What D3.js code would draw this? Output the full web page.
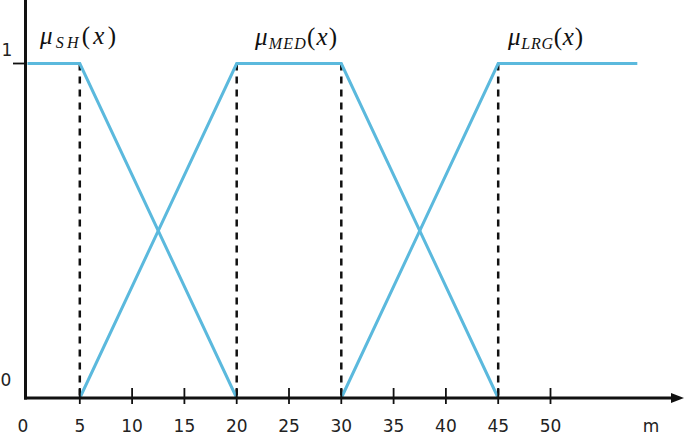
<!DOCTYPE html>
<html><head><meta charset="utf-8">
<script src="https://cdn.jsdelivr.net/npm/d3@7"></script>
<style>html,body{margin:0;padding:0;background:#fff;}svg{display:block;}</style>
</head><body>
<svg id="c" width="685" height="442"></svg>
<script>
// data
const xTickValues = [0, 5, 10, 15, 20, 25, 30, 35, 40, 45, 50];
const xUnit = "m";
const yTickLabels = ["0", "1"];
const shX = [0, 5, 20],      shY = [1, 1, 0];
const medX = [5, 20, 30, 45], medY = [0, 1, 1, 0];
const lrgX = [30, 45, 58.3],  lrgY = [0, 1, 1];
const cornerX = [5, 20, 30, 45];
const seriesNames = ["SH", "MED", "LRG"];

const svg = d3.select("#c");
const x = d3.scaleLinear().domain([0, 50]).range([27.5, 550.5]);
const y = d3.scaleLinear().domain([0, 1]).range([398, 63.5]);
const blue = "#5bb9dd";

// dashed verticals
svg.selectAll("line.dash").data(cornerX).enter().append("line")
  .attr("x1", d => x(d)).attr("x2", d => x(d))
  .attr("y1", y(1)).attr("y2", y(0))
  .attr("stroke", "#111").attr("stroke-width", 2.5)
  .attr("stroke-dasharray", "7,6");

// membership lines
const line = d3.line().x(d => x(d[0])).y(d => y(d[1]));
[[shX, shY], [medX, medY], [lrgX, lrgY]].forEach(([xs, ys]) => {
  svg.append("path").attr("d", line(xs.map((v, i) => [v, ys[i]])))
    .attr("fill", "none").attr("stroke", blue).attr("stroke-width", 3)
    .attr("stroke-linejoin", "miter");
});

// axes
const axisX0 = 25.5;
svg.append("line").attr("x1", axisX0).attr("x2", axisX0).attr("y1", 0).attr("y2", 399.5)
  .attr("stroke", "#111").attr("stroke-width", 3);
svg.append("line").attr("x1", axisX0 - 1.5).attr("x2", 676).attr("y1", y(0)).attr("y2", y(0))
  .attr("stroke", "#111").attr("stroke-width", 3);
svg.append("path").attr("d", `M671,${y(0)-5} L684,${y(0)} L671,${y(0)+5} Z`).attr("fill", "#111");

// x ticks
svg.selectAll("line.xt").data(xTickValues.filter(d => d > 0)).enter().append("line")
  .attr("x1", d => x(d)).attr("x2", d => x(d)).attr("y1", 388).attr("y2", 404)
  .attr("stroke", "#111").attr("stroke-width", 1.8);
svg.selectAll("text.xl").data(xTickValues).enter().append("text")
  .attr("x", d => d === 0 ? 23 : x(d)).attr("y", 432)
  .attr("text-anchor", "middle").attr("font-family", "DejaVu Sans")
  .attr("font-size", 17).attr("fill", "#222").text(d => d);
svg.append("text").attr("x", 651).attr("y", 432).attr("text-anchor", "middle")
  .attr("font-family", "DejaVu Sans").attr("font-size", 17).attr("fill", "#222").text(xUnit);

// y tick at 1
svg.append("line").attr("x1", 13).attr("x2", axisX0).attr("y1", y(1)).attr("y2", y(1))
  .attr("stroke", "#111").attr("stroke-width", 1.8);
svg.append("text").attr("x", 6).attr("y", 386).attr("text-anchor", "middle")
  .attr("font-family", "DejaVu Sans").attr("font-size", 17).attr("fill", "#222").text(yTickLabels[0]);
svg.append("text").attr("x", 7).attr("y", 56).attr("text-anchor", "middle")
  .attr("font-family", "DejaVu Sans").attr("font-size", 17).attr("fill", "#222").text(yTickLabels[1]);

// math labels
const labelLeft = [40, 255, 508];
const labelBase = [44, 45, 45];
const labelWidth = [76, 82, 75];
seriesNames.forEach((n, i) => {
  const t = svg.append("text").attr("x", labelLeft[i]).attr("y", labelBase[i])
    .attr("font-family", "Liberation Serif").attr("font-size", 25).attr("fill", "#111")
    .attr("textLength", labelWidth[i]).attr("lengthAdjust", "spacing");
  t.append("tspan").attr("font-style", "italic").text("μ");
  t.append("tspan").attr("font-style", "italic").attr("font-size", 16).attr("dy", 4).text(n);
  t.append("tspan").attr("dy", -4).text("(");
  t.append("tspan").attr("font-style", "italic").text("x");
  t.append("tspan").text(")");
});
</script>
</body></html>
